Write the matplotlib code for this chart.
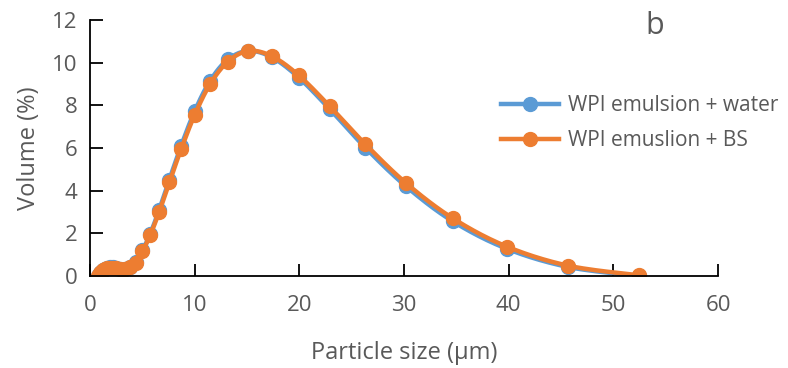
import numpy as np
import matplotlib
matplotlib.use("Agg")
import matplotlib.pyplot as plt

# particle size bins (um) and volume (%) per sample
size_um = [0.724, 0.832, 0.955, 1.096, 1.259, 1.445, 1.660, 1.905, 2.188, 2.512,
           2.884, 3.311, 3.802, 4.365, 5.012, 5.754, 6.607, 7.586, 8.710, 10.0,
           11.48, 13.18, 15.14, 17.38, 19.95, 22.91, 26.30, 30.20, 34.67, 39.81,
           45.71, 52.48]
vol_water = [0.0, 0.06, 0.13, 0.21, 0.28, 0.34, 0.38, 0.40, 0.40, 0.38,
             0.35, 0.33, 0.42, 0.66, 1.20, 1.98, 3.10, 4.52, 6.10, 7.72,
             9.15, 10.15, 10.55, 10.25, 9.30, 7.82, 6.02, 4.20, 2.56, 1.28,
             0.42, 0.0]
vol_bs = [0.0, 0.05, 0.12, 0.20, 0.27, 0.33, 0.37, 0.39, 0.39, 0.37,
          0.34, 0.32, 0.40, 0.62, 1.15, 1.92, 3.00, 4.40, 5.95, 7.55,
          9.00, 10.05, 10.55, 10.30, 9.40, 7.95, 6.18, 4.35, 2.70, 1.38,
          0.48, 0.03]

labels = ["WPI emulsion + water", "WPI emuslion + BS"]
colors = ["#5B9BD5", "#ED7D31"]
text_color = "#595959"


def smooth(x, y, n=20):
    # catmull-rom curve through the points, like Excel's smoothed line
    x = np.asarray(x, float)
    y = np.asarray(y, float)
    px = np.concatenate([[x[0]], x, [x[-1]]])
    py = np.concatenate([[y[0]], y, [y[-1]]])
    xs, ys = [], []
    t = np.linspace(0, 1, n, endpoint=False)
    for i in range(1, len(px) - 2):
        for p, out in ((px, xs), (py, ys)):
            p0, p1, p2, p3 = p[i - 1], p[i], p[i + 1], p[i + 2]
            out.extend(0.5 * (2 * p1 + (-p0 + p2) * t
                              + (2 * p0 - 5 * p1 + 4 * p2 - p3) * t ** 2
                              + (-p0 + 3 * p1 - 3 * p2 + p3) * t ** 3))
    xs.append(x[-1])
    ys.append(y[-1])
    return xs, ys


plt.rcParams['font.family'] = ['Open Sans', 'DejaVu Sans']

fig = plt.figure(figsize=(7.88, 3.68), dpi=100)
ax = fig.add_axes([0.1142, 0.25, 0.797, 0.6957])

for vals, lab, col in zip([vol_water, vol_bs], labels, colors):
    sx, sy = smooth(size_um, vals)
    ax.plot(sx, sy, color=col, lw=3.2, solid_capstyle='round')
    ax.plot(size_um, vals, 'o', color=col, ms=10)
    ax.plot([], [], '-o', color=col, lw=3.2, ms=10, label=lab)

ax.set_xlim(0, 60)
ax.set_ylim(0, 12)
ax.set_xticks(range(0, 61, 10))
ax.set_yticks(range(0, 13, 2))
for s in ['top', 'right']:
    ax.spines[s].set_visible(False)
for s in ['left', 'bottom']:
    ax.spines[s].set_linewidth(1.3)
    ax.spines[s].set_color('black')
ax.tick_params(direction='in', length=9, width=1.3, labelsize=16,
               labelcolor=text_color, pad=9)
ax.tick_params(axis='x', pad=14)

ax.set_xlabel('Particle size (µm)', fontsize=17, color=text_color, labelpad=18)
ax.set_ylabel('Volume (%)', fontsize=17, color=text_color, labelpad=8)

fig.text(0.831, 0.928, 'b', fontsize=22, color=text_color, ha='center', va='center')

leg = ax.legend(loc='upper left', bbox_to_anchor=(0.625, 0.765), bbox_transform=fig.transFigure,
                frameon=False, fontsize=15, handlelength=2.8, handletextpad=0.4,
                labelspacing=0.7, borderaxespad=0)
for t in leg.get_texts():
    t.set_color(text_color)

fig.savefig('out.png', dpi=100)
